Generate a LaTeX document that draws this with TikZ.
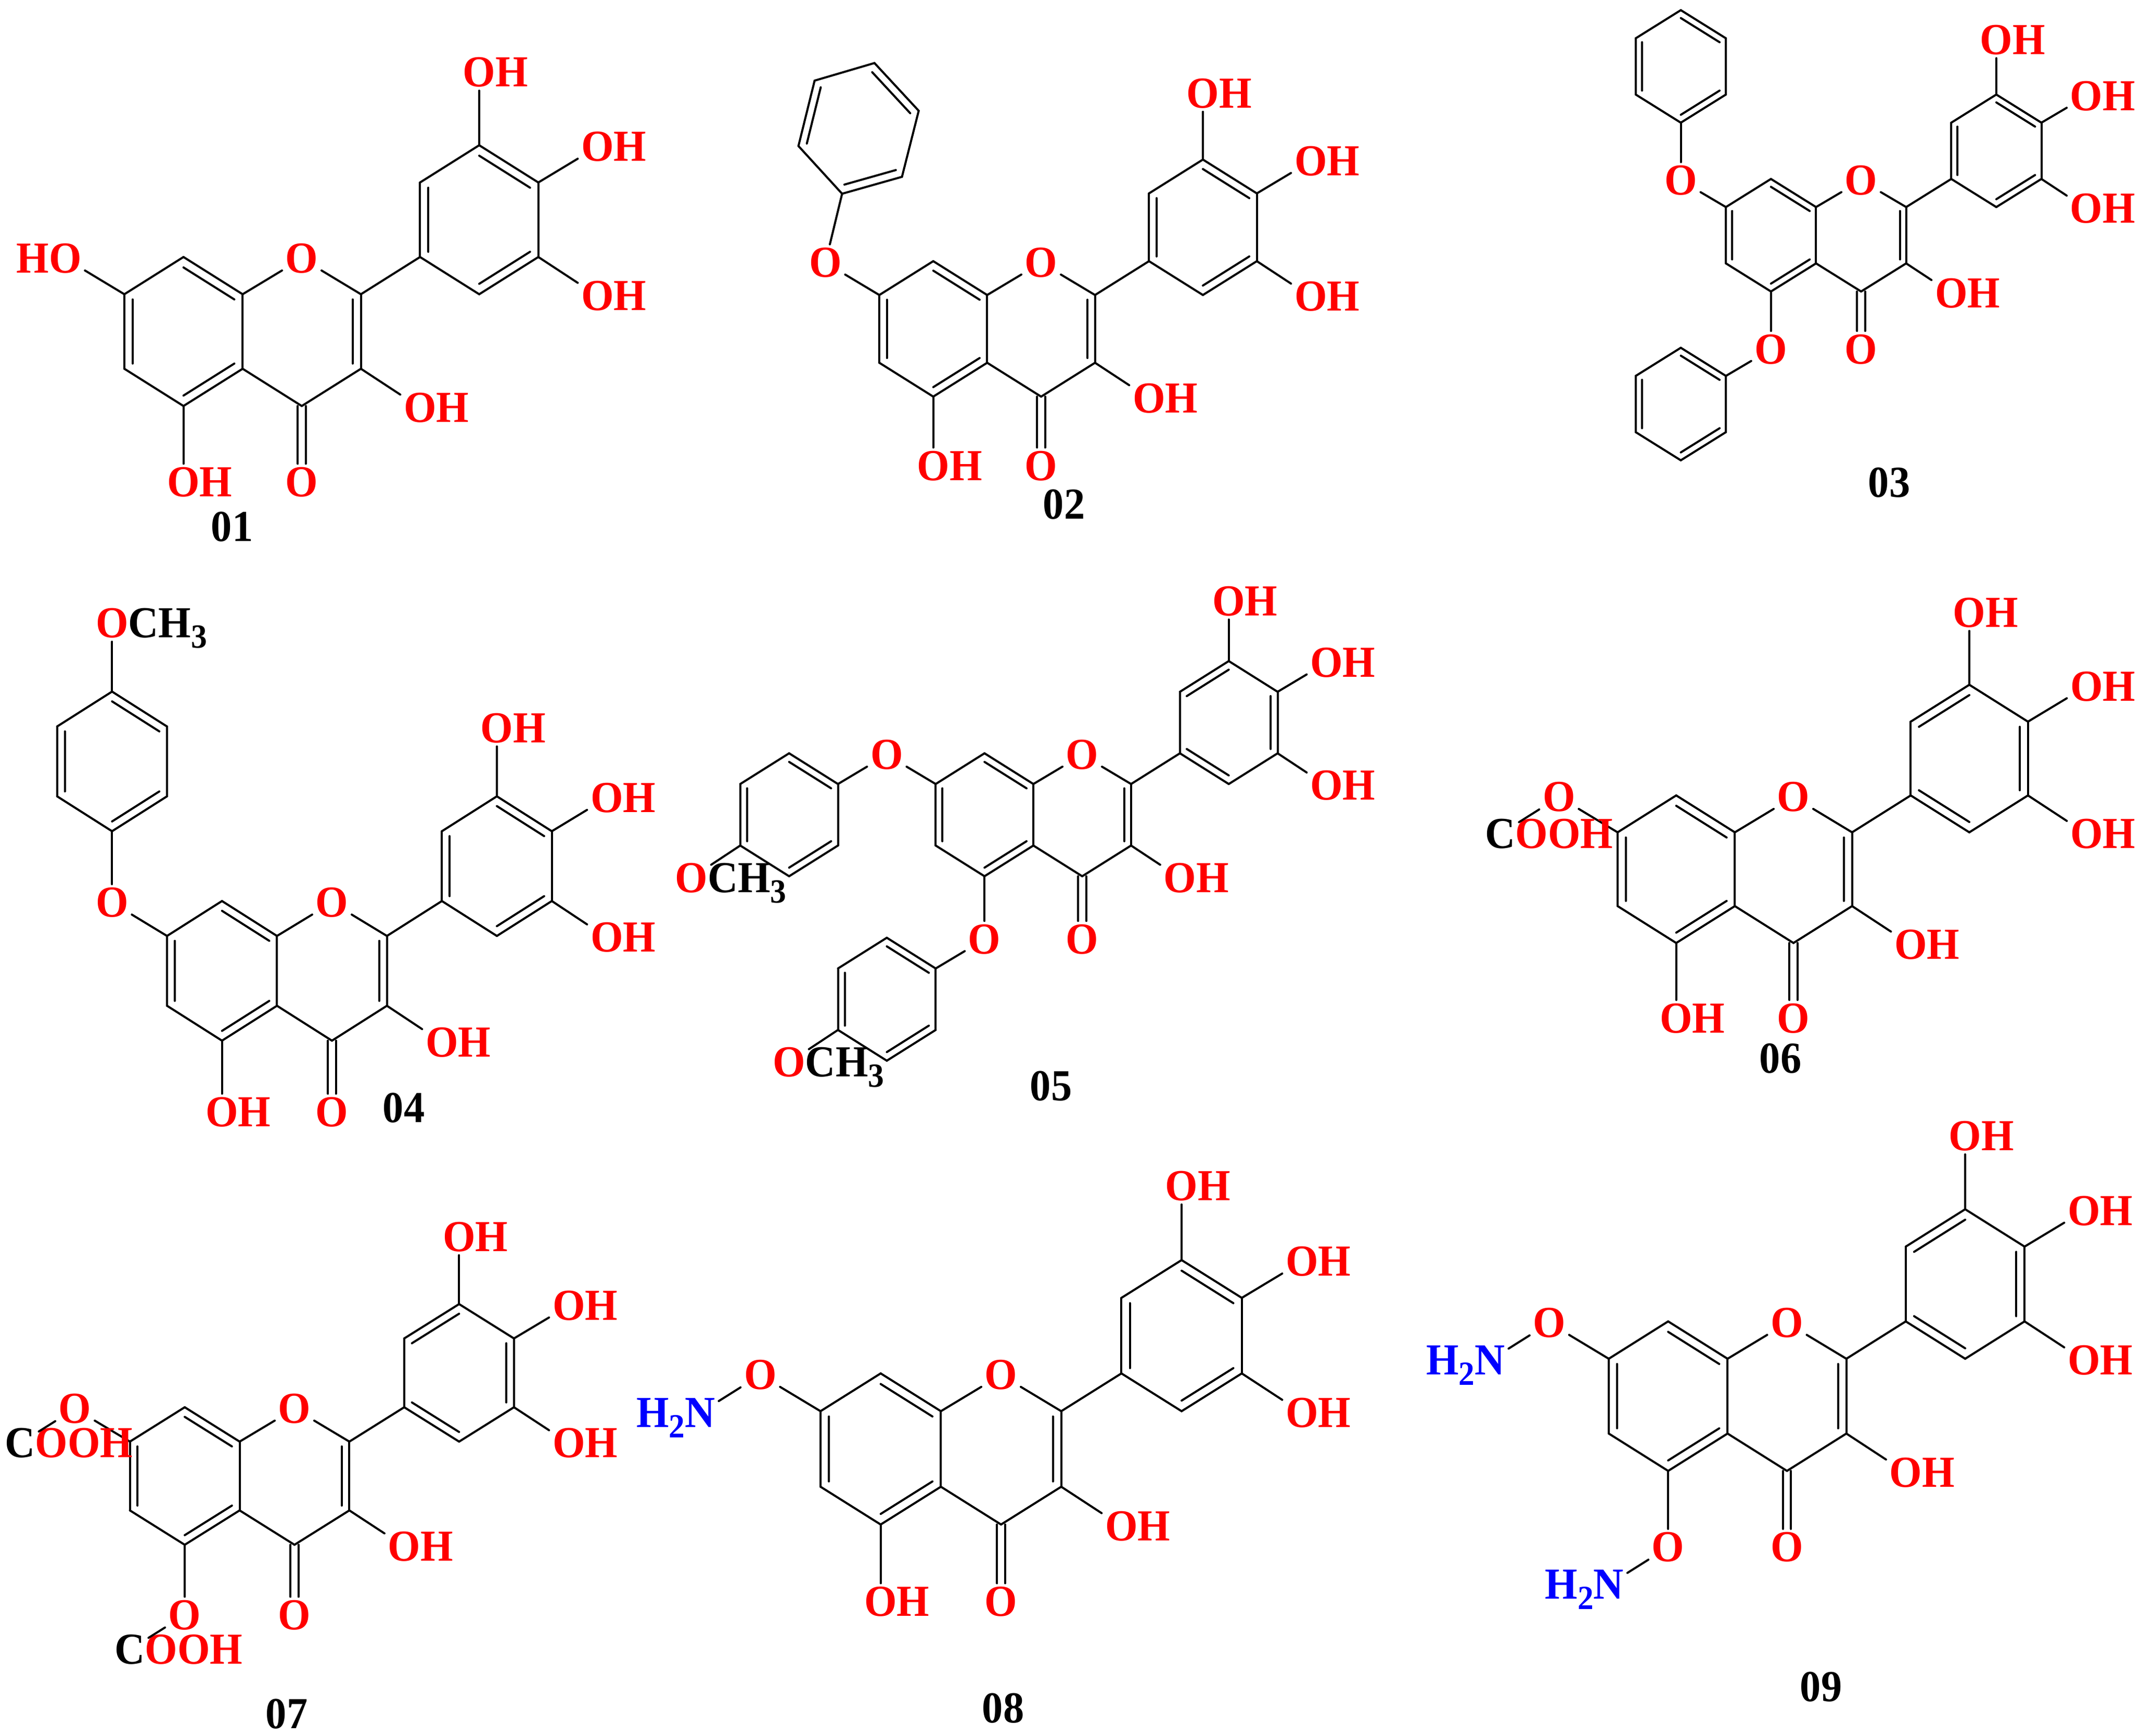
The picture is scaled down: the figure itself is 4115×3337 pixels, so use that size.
\documentclass[tikz,border=0pt]{standalone}
\usepackage{fontspec}
\setmainfont[FakeStretch=0.945]{Liberation Serif}
\usetikzlibrary{calc}

\tikzset{
	bond/.style={line width=.04cm,line cap=round,line join=round},
	atom/.style={text=red,font=\bfseries\fontsize{24.2}{26}\selectfont,inner sep=.06cm,yshift=-.03cm},
	numlabel/.style={text=black,font=\bfseries\fontsize{24.2}{26}\selectfont,inner sep=0pt,yshift=-.03cm},
	mol/.style n args={4}{shift={(#1,#2)},x=#3*.005cm,y=#4*.005cm}
}
\newcommand{\rtxt}[1]{\rlap{\smash{#1}}}
\newcommand{\ltxt}[1]{\llap{\smash{#1}}}
\newcommand{\low}[1]{\raisebox{-.2cm}{\fontsize{18.5}{18.5}\selectfont #1}}
\newcommand{\dblbond}[3]{
	\draw[bond] (#1)--(#2);
	\draw[bond] ($(#1)!.14!(#3)$)--($(#2)!.14!(#3)$);
}
\newcommand{\hexring}[7]{
	\dblbond{#1}{#2}{#7}
	\draw[bond] (#2)--(#3);
	\dblbond{#3}{#4}{#7}
	\draw[bond] (#4)--(#5);
	\dblbond{#5}{#6}{#7}
	\draw[bond] (#6)--(#1);
}
\newcommand{\phring}[3]{
	\coordinate (#1c) at (#2,#3);
	\coordinate (#11) at (#2,#3-2);
	\coordinate (#12) at (#2+1,#3-1);
	\coordinate (#13) at (#2+1,#3+1);
	\coordinate (#14) at (#2,#3+2);
	\coordinate (#15) at (#2-1,#3+1);
	\coordinate (#16) at (#2-1,#3-1);
	\hexring{#11}{#12}{#13}{#14}{#15}{#16}{#1c}
}
\newcommand{\bringa}{\hexring{c1p}{c2p}{c3p}{c4p}{c5p}{c6p}{cb}}
\newcommand{\bringb}{\hexring{c2p}{c3p}{c4p}{c5p}{c6p}{c1p}{cb}}
% #1 text at position 7, #2 text at position 5, #3 kekule form of the side ring
\newcommand{\flavcore}[3]{
	\coordinate (c2) at (1,-1);
	\coordinate (c3) at (1,-3);
	\coordinate (c4) at (0,-4);
	\coordinate (c4a) at (-1,-3);
	\coordinate (c5) at (-2,-4);
	\coordinate (c6) at (-3,-3);
	\coordinate (c7) at (-3,-1);
	\coordinate (c8) at (-2,0);
	\coordinate (c8a) at (-1,-1);
	\coordinate (c1p) at (2,0);
	\coordinate (c2p) at (2,2);
	\coordinate (c3p) at (3,3);
	\coordinate (c4p) at (4,2);
	\coordinate (c5p) at (4,0);
	\coordinate (c6p) at (3,-1);
	\coordinate (ca) at (-2,-2);
	\coordinate (cc) at (0,-2);
	\coordinate (cb) at (3,1);
	\node[atom] (o1) at (0,0) {O};
	\node[atom] (o3) at (2,-4) {O\rtxt{H}};
	\node[atom] (o4) at (0,-6) {O};
	\node[atom] (o5) at (-2,-6) {#2};
	\node[atom] (o7) at (-4,0) {#1};
	\node[atom] (o3p) at (3,5) {O\rtxt{H}};
	\node[atom] (o4p) at (5,3) {O\rtxt{H}};
	\node[atom] (o5p) at (5,-1) {O\rtxt{H}};
	\hexring{c7}{c6}{c5}{c4a}{c8a}{c8}{ca}
	\dblbond{c2}{c3}{cc}
	#3
	\draw[bond] (c8a)--(o1);
	\draw[bond] (o1)--(c2);
	\draw[bond] (c3)--(c4);
	\draw[bond] (c4)--(c4a);
	\draw[bond] (c2)--(c1p);
	\draw[bond] (c3)--(o3);
	\draw[bond] (c5)--(o5);
	\draw[bond] (c7)--(o7);
	\draw[bond] (c3p)--(o3p);
	\draw[bond] (c4p)--(o4p);
	\draw[bond] (c5p)--(o5p);
	\foreach \s in {-.077,.077}
		\draw[bond,transform canvas={xshift=\s cm}] (c4)--(o4);
}

\begin{document}
\begin{tikzpicture}[x=.01cm,y=-.01cm]
\useasboundingbox (0,0) rectangle (4115,3337);

\begin{scope}[name prefix=m1-,mol={580}{494}{227}{143}]
	\flavcore{\ltxt{H}O}{O\rtxt{H}}{\bringa}
\end{scope}

\begin{scope}[name prefix=m2-,mol={2001}{502}{207}{130}]
	\flavcore{O}{O\rtxt{H}}{\bringa}
	\coordinate (p1) at (-3.69,1.99);
	\coordinate (p2) at (-2.58,2.49);
	\coordinate (p3) at (-2.27,4.44);
	\coordinate (p4) at (-3.09,5.85);
	\coordinate (p5) at (-4.2,5.33);
	\coordinate (p6) at (-4.5,3.4);
	\coordinate (pc) at (-3.39,3.92);
	\hexring{p1}{p2}{p3}{p4}{p5}{p6}{pc}
	\draw[bond] (o7)--(p1);
\end{scope}

\begin{scope}[name prefix=m3-,mol={3577}{344}{173}{108}]
	\flavcore{O}{O}{\bringa}
	\phring{p}{-4}{4}
	\phring{q}{-4}{-8}
	\draw[bond] (o7)--(p1);
	\draw[bond] (o5)--(q3);
\end{scope}

\begin{scope}[name prefix=m4-,mol={638}{1732}{211}{134}]
	\flavcore{O}{O\rtxt{H}}{\bringa}
	\node[atom] (o8) at (-4,8) {O\rtxt{\color{black}CH\low{3}}};
	\phring{p}{-4}{4}
	\draw[bond] (o7)--(p1);
	\draw[bond] (p4)--(o8);
\end{scope}

\begin{scope}[name prefix=m5-,mol={2080}{1448}{187.5}{118}]
	\flavcore{O}{O}{\bringb}
	\node[atom] (o8) at (-8,-4) {O\rtxt{\color{black}CH\low{3}}};
	\node[atom] (o9) at (-6,-10) {O\rtxt{\color{black}CH\low{3}}};
	\phring{p}{-6}{-2}
	\phring{q}{-4}{-8}
	\draw[bond] (o7)--(p3);
	\draw[bond] (p6)--(o8);
	\draw[bond] (o5)--(q3);
	\draw[bond] (q6)--(o9);
\end{scope}

\begin{scope}[name prefix=m6-,mol={3447}{1529}{225}{141.6}]
	\flavcore{O}{O\rtxt{H}}{\bringb}
	\node[atom,text=black] (a7) at (-5,-1) {C\rtxt{\color{red}OOH}};
	\draw[bond] (o7)--(a7);
\end{scope}

\begin{scope}[name prefix=m7-,mol={566}{2705}{210.6}{132}]
	\flavcore{O}{O}{\bringb}
	\node[atom,text=black] (a7) at (-5,-1) {C\rtxt{\color{red}OOH}};
	\node[atom,text=black] (a5) at (-3,-7) {C\rtxt{\color{red}OOH}};
	\draw[bond] (o7)--(a7);
	\draw[bond] (o5)--(a5);
\end{scope}

\begin{scope}[name prefix=m8-,mol={1924}{2640}{231}{145}]
	\flavcore{O}{O\rtxt{H}}{\bringa}
	\node[atom,text=blue] (a7) at (-5,-1) {\ltxt{H\low{2}}N};
	\draw[bond] (o7)--(a7);
\end{scope}

\begin{scope}[name prefix=m9-,mol={3434.5}{2540}{228}{143.5}]
	\flavcore{O}{O}{\bringb}
	\node[atom,text=blue] (a7) at (-5,-1) {\ltxt{H\low{2}}N};
	\node[atom,text=blue] (a5) at (-3,-7) {\ltxt{H\low{2}}N};
	\draw[bond] (o7)--(a7);
	\draw[bond] (o5)--(a5);
\end{scope}

\foreach \n/\x/\y in {01/446/1010,02/2045/967,03/3631/925,04/776/2127,05/2020/2085,06/3422/2032,07/551/3292,08/1928/3281,09/3500/3240}
	\node[numlabel] (n\n) at (\x,\y) {\n};
\end{tikzpicture}
\end{document}
